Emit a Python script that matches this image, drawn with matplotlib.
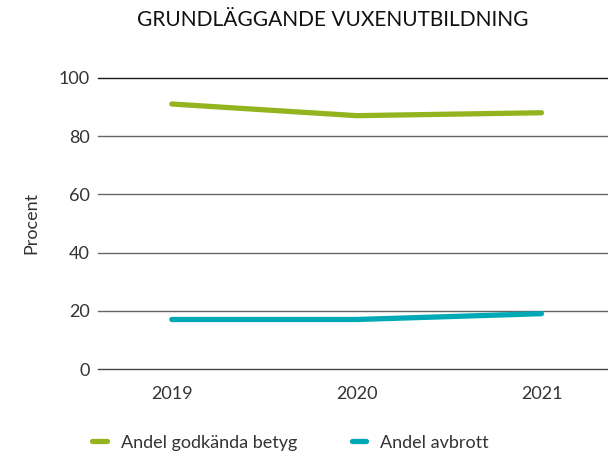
import matplotlib.pyplot as plt

plt.rcParams['font.family'] = ['Lato', 'DejaVu Sans']

years = ['2019', '2020', '2021']
godkanda = [91, 87, 88]
avbrott = [17, 17, 19]
yticks = [0, 20, 40, 60, 80, 100]

green = '#93b41e'
teal = '#00a9b5'

fig = plt.figure(figsize=(6.08, 4.55), dpi=100)
ax = fig.add_axes([0.161, 0.189, 0.839, 0.64])

x = range(len(years))
ax.plot(x, godkanda, color=green, lw=3.8, solid_capstyle='round', label='Andel godkända betyg', zorder=3)
ax.plot(x, avbrott, color=teal, lw=3.8, solid_capstyle='round', label='Andel avbrott', zorder=3)

ax.set_ylim(0, 100)
ax.set_xlim(-0.4, 2.36)
ax.set_yticks(yticks)
ax.set_xticks(list(x))
ax.set_xticklabels(years)
# gridlines: top darkest, baseline dark, inner ones grey
for v in yticks:
    c = '#1a1a1a' if v == 100 else ('#444444' if v == 0 else '#666666')
    ax.axhline(v, color=c, lw=1, zorder=1, clip_on=False)
ax.tick_params(length=0, labelsize=13, colors='#333333')
ax.tick_params(axis='y', pad=6)
ax.tick_params(axis='x', pad=12)
for s in ax.spines.values():
    s.set_visible(False)
ax.set_ylabel('Procent', fontsize=13, color='#333333', labelpad=14)

fig.text(0.548, 0.955, 'GRUNDLÄGGANDE VUXENUTBILDNING', ha='center', va='center',
         fontsize=15, color='#111111')

fig.legend(loc='lower left', bbox_to_anchor=(0.125, -0.026), ncol=2, frameon=False,
           fontsize=13, handlelength=0.8, handletextpad=0.8, columnspacing=3.0,
           labelcolor='#333333')

fig.savefig('out.png', dpi=100)
